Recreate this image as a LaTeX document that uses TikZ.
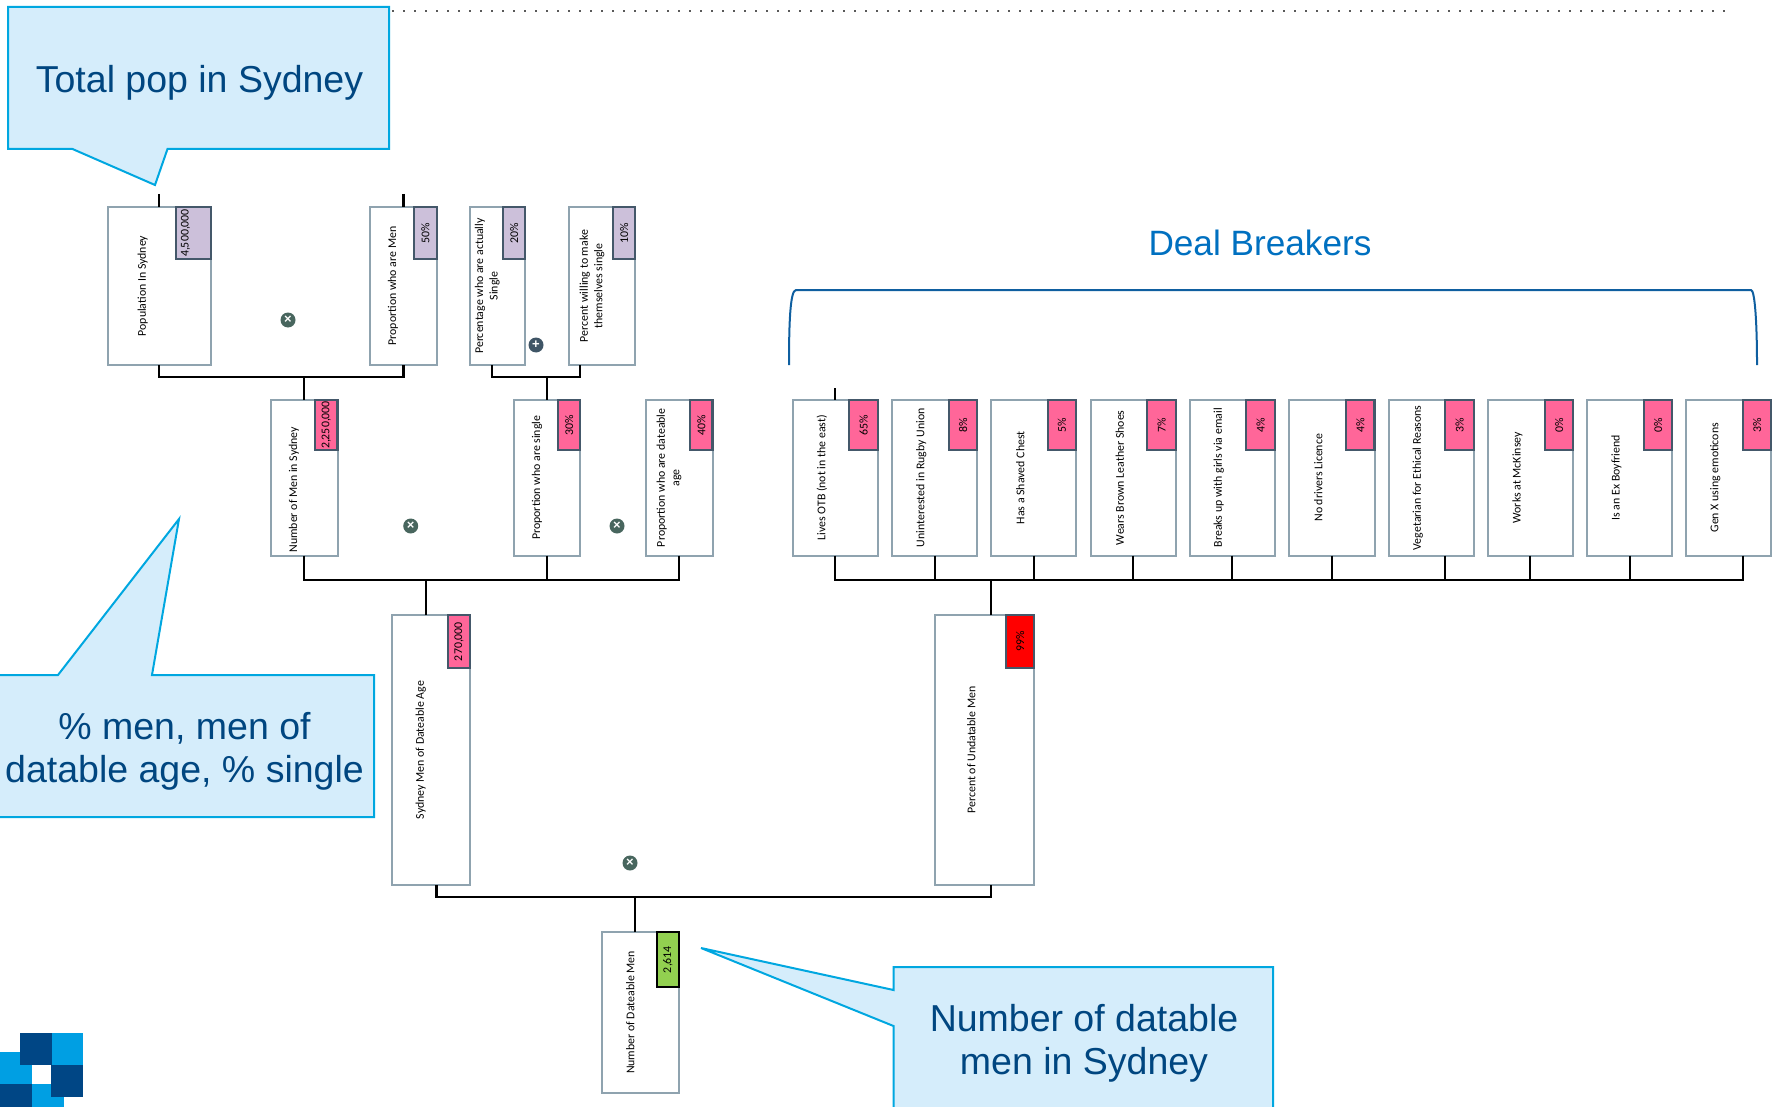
\documentclass[tikz,border=0pt]{standalone}
\usepackage{fontspec}
\setmainfont{Carlito}
\newfontfamily\arialf{Liberation Sans}
\usetikzlibrary{calc}
\definecolor{boxline}{HTML}{8FA3AF}
\definecolor{badgeline}{HTML}{44586A}
\definecolor{pinkfill}{HTML}{FF6699}
\definecolor{lilacfill}{HTML}{CCC0DA}
\definecolor{greenfill}{HTML}{92D050}
\definecolor{calloutfill}{HTML}{D5EDFB}
\definecolor{calloutline}{HTML}{00A7E0}
\definecolor{callouttext}{HTML}{004680}
\definecolor{dealblue}{HTML}{0070C0}
\definecolor{bracecol}{HTML}{0F5FA0}
\definecolor{logodark}{HTML}{004685}
\definecolor{logolight}{HTML}{009FE3}
\definecolor{opgreen}{HTML}{48665E}
\definecolor{opblue}{HTML}{3F5566}
\tikzset{
  dbox/.style={draw=boxline,line width=2pt,fill=white,rectangle,inner sep=0pt,outer sep=0pt},
  badge/.style={draw=badgeline,line width=2.2pt,rectangle,inner sep=0pt,outer sep=0pt},
  pinkbadge/.style={badge,fill=pinkfill},
  lilacbadge/.style={badge,fill=lilacfill},
  redbadge/.style={badge,fill=red},
  greenbadge/.style={badge,fill=greenfill,draw=black},
  boxtext/.style={rotate=90,align=center,inner sep=0pt,font=\fontsize{11.85}{14.5}\selectfont,text=black},
  wire/.style={draw=black,line width=2.2pt},
  thinwire/.style={draw=black,line width=1.4pt},
  callout/.style={draw=calloutline,fill=calloutfill,line width=2pt,line join=miter},
  callouttxt/.style={align=center,inner sep=0pt,text=callouttext,font=\arialf\fontsize{37.5}{43}\selectfont},
  opsign/.style={circle,inner sep=0pt,minimum size=15pt,text=white,font=\arialf\bfseries\fontsize{13}{13}\selectfont},
  timesop/.style={opsign,fill=opgreen},
  plusop/.style={opsign,fill=opblue},
  logobit/.style={draw=none}
}
% name, x1, y1, x2, y2, badge x, badge bottom, badge style, value, label
\newcommand{\dealbox}[9]{%
  \pgfmathsetmacro{\dbW}{#4-#2}\pgfmathsetmacro{\dbH}{#5-#3}%
  \pgfmathsetmacro{\dbCx}{(#2+#4)/2}\pgfmathsetmacro{\dbCy}{(#3+#5)/2}%
  \node[dbox,minimum width=\dbW pt,minimum height=\dbH pt] (#1) at (\dbCx,\dbCy) {};
  \pgfmathsetmacro{\dbBw}{#4-#6}\pgfmathsetmacro{\dbBh}{#7-#3}%
  \pgfmathsetmacro{\dbBx}{(#4+#6)/2}\pgfmathsetmacro{\dbBy}{(#3+#7)/2}%
  \node[#8,minimum width=\dbBw pt,minimum height=\dbBh pt] (#1-badge) at (\dbBx,\dbBy) {};
  \node[boxtext] (#1-value) at (#1-badge) {#9};
  \pgfmathsetmacro{\dbLx}{(#2+#6)/2+1}%
  \dealboxlabel{#1}%
}
\newcommand{\dealboxlabel}[2]{\node[boxtext] (#1-label) at (\dbLx,\dbCy) {#2};}
\begin{document}
\begin{tikzpicture}[x=1pt,y=-1pt]
\useasboundingbox (0,0) rectangle (1776,1107);
\clip (0,0) rectangle (1776,1107);
% dotted line
\coordinate (dotstart) at (392,11);
\coordinate (dotend) at (1733,11);
\draw[line width=2pt,dash pattern=on 2pt off 9pt,color=black!65] (dotstart) -- (dotend);
% logo
\fill[logolight,logobit] (0,1052) rectangle (32,1084);
\fill[logolight,logobit] (32,1084) rectangle (64,1107);
\fill[logodark,logobit] (20,1033) rectangle (52,1065);
\fill[logolight,logobit] (52,1033) rectangle (83,1065);
\fill[logodark,logobit] (51,1065) rectangle (83,1097);
\fill[logodark,logobit] (0,1084) rectangle (32,1107);
% callouts
\draw[callout] (8,7) -- (389,7) -- (389,149) -- (167.5,149) -- (155,185) -- (72.5,149) -- (8,149) -- cycle;
\node[callouttxt] (calloutA) at (199.5,83) {Total pop in Sydney};
\draw[callout] (-4,675) -- (58,675) -- (179,519) -- (152,675) -- (374,675) -- (374,817) -- (-4,817) -- cycle;
\node[callouttxt] (calloutB) at (184.5,751) {\% men, men of\\datable age, \% single};
\draw[callout] (893.5,967) -- (1273,967) -- (1273,1112) -- (893.5,1112) -- (893.5,1026) -- (701,948) -- (893.5,990) -- cycle;
\node[callouttxt] (calloutC) at (1084,1043) {Number of datable\\men in Sydney};
% heading and brace
\node[inner sep=0pt,text=dealblue,font=\arialf\fontsize{35.2}{40}\selectfont] (deal) at (1260,243) {Deal Breakers};
\coordinate (braceL) at (789,365);
\coordinate (braceR) at (1757,365);
\draw[bracecol,line width=2pt] (braceL) .. controls (789,325) and (790,290) .. (796,290) -- (1751,290) .. controls (1755,290) and (1757,325) .. (braceR);
% boxes
\dealbox{pop}{107.5}{207}{211}{365}{176}{259}{lilacbadge}{\raisebox{4.8pt}[0pt][0pt]{4,500,000}}{Population In Sydney}
\dealbox{men}{370}{207}{437}{365}{413.7}{259}{lilacbadge}{50\%}{Proportion who are Men}
\dealbox{actual}{469.5}{207}{525}{365}{503}{259}{lilacbadge}{20\%}{Percentage who are actually\\Single}
\dealbox{willing}{569}{207}{635}{365}{613}{259}{lilacbadge}{10\%}{Percent willing to make\\themselves single}
\dealbox{num}{271}{400}{337.5}{555.5}{315}{450}{pinkbadge}{2,250,000}{Number of Men in Sydney\rule{24pt}{0pt}}
\dealbox{single}{514}{400}{580}{555.5}{558}{450}{pinkbadge}{30\%}{Proportion who are single}
\dealbox{age}{646}{400}{712.5}{555.5}{690}{450}{pinkbadge}{40\%}{Proportion who are dateable\\age}
\dealbox{otb}{792.7}{400}{878.3}{555.5}{849}{450}{pinkbadge}{65\%}{Lives OTB (not in the east)}
\dealbox{rugby}{891.7}{400}{977}{555.5}{949}{450}{pinkbadge}{8\%}{Uninterested in Rugby Union}
\dealbox{chest}{990.7}{400}{1076}{555.5}{1047.7}{450}{pinkbadge}{5\%}{Has a Shaved Chest}
\dealbox{shoes}{1090.7}{400}{1176}{555.5}{1147}{450}{pinkbadge}{7\%}{Wears Brown Leather Shoes}
\dealbox{email}{1189.7}{400}{1275}{555.5}{1246}{450}{pinkbadge}{4\%}{Breaks up with girls via email}
\dealbox{licence}{1288.7}{400}{1374.5}{555.5}{1346}{450}{pinkbadge}{4\%}{No drivers Licence}
\dealbox{vegetarian}{1388.7}{400}{1474}{555.5}{1445}{450}{pinkbadge}{3\%}{Vegetarian for Ethical Reasons}
\dealbox{mckinsey}{1487.7}{400}{1573}{555.5}{1545}{450}{pinkbadge}{0\%}{Works at McKinsey}
\dealbox{exboy}{1586.7}{400}{1672}{555.5}{1644}{450}{pinkbadge}{0\%}{Is an Ex Boyfriend}
\dealbox{genx}{1685.7}{400}{1771}{555.5}{1743}{450}{pinkbadge}{3\%}{Gen X using emoticons}
\dealbox{sydmen}{391.7}{615}{470}{885}{448}{668}{pinkbadge}{270,000}{Sydney Men of Dateable Age}
\dealbox{undat}{934.6}{615}{1034}{885}{1006}{668}{redbadge}{99\%}{Percent of Undatable Men}
\dealbox{final}{602}{932}{679}{1093}{656.7}{987}{greenbadge}{2,614}{Number of Dateable Men}
% operators
\node[timesop] (op1) at (288,320) {×};
\node[plusop] (op2) at (536,345) {+};
\node[timesop] (op3) at (410.7,526) {×};
\node[timesop] (op4) at (617,526) {×};
\node[timesop] (op5) at (630,863) {×};
% connectors
\coordinate (busA) at (304,376.7);
\draw[wire] (pop.south) |- (busA);
\draw[wire] (men.south) |- (busA);
\draw[wire] (busA) -- (busA -| num.north) -- (num.north);
\coordinate (busB) at (547,376.7);
\draw[wire] ([xshift=-5.5pt]actual.south) |- (busB);
\draw[wire] ([xshift=-22pt]willing.south) |- (busB);
\draw[wire] (busB) -- (busB -| single.north) -- (single.north);
\coordinate (busC) at (425.7,580);
\draw[wire] (num.south) |- (busC);
\draw[wire] (age.south) |- (busC);
\draw[wire] (single.south) -- (single.south |- busC);
\draw[wire] ([xshift=-5.1pt]sydmen.north) |- (busC);
\coordinate (busD) at (991,580);
\draw[wire] ([xshift=-0.5pt]otb.south) |- (busD);
\draw[wire] ([xshift=14.6pt]genx.south) |- (busD);
\foreach \b/\o in {rugby/0.6,chest/0.7,shoes/0,email/0,licence/0.4,vegetarian/13.7,mckinsey/0,exboy/0.6}{
  \draw[wire] ([xshift=\o pt]\b.south) -- ([xshift=\o pt]\b.south |- busD);
}
\draw[wire] ([xshift=6.7pt]undat.north) |- (busD);
\coordinate (busE) at (635,897);
\draw[wire] ([xshift=5.6pt]sydmen.south) |- (busE);
\draw[wire] ([xshift=6.7pt]undat.south) |- (busE);
\draw[thinwire] ([xshift=-5.5pt]final.north) |- (busE);
% stubs
\coordinate (stubA) at ([yshift=13pt]pop.north);
\coordinate (stubB) at ([yshift=13pt]men.north);
\coordinate (stubC) at ([yshift=12pt,xshift=-0.5pt]otb.north);
\draw[wire] (stubA) -- (pop.north);
\draw[wire] (stubB) -- (men.north);
\draw[thinwire] (stubC) -- ([xshift=-0.5pt]otb.north);
\end{tikzpicture}
\end{document}
